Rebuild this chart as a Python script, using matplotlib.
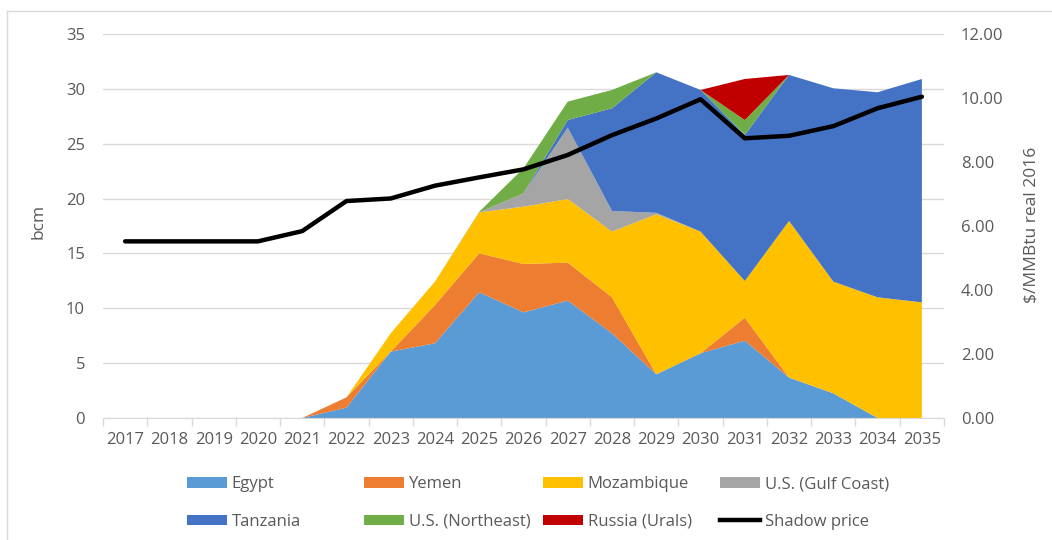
import numpy as np
import matplotlib
matplotlib.use("Agg")
import matplotlib.pyplot as plt
from matplotlib.lines import Line2D
from matplotlib.patches import Patch

plt.rcParams['font.family'] = ['Open Sans', 'DejaVu Sans']

years = [str(y) for y in range(2017, 2036)]

# bcm (not stacked)
egypt      = [0, 0, 0, 0, 0, 0.94, 6.05, 6.81, 11.46, 9.63, 10.70, 7.72, 3.98, 5.90, 7.05, 3.68, 2.25, 0, 0]
yemen      = [0, 0, 0, 0, 0, 0.94, 0, 3.49, 3.55, 4.41, 3.46, 3.28, 0, 0, 2.09, 0, 0, 0, 0]
mozambique = [0, 0, 0, 0, 0, 0, 1.67, 2.13, 3.74, 5.22, 5.80, 5.99, 14.59, 11.09, 3.35, 14.28, 10.18, 11.00, 10.54]
gulf_coast = [0, 0, 0, 0, 0, 0, 0, 0, 0, 1.22, 6.50, 1.88, 0.13, 0, 0, 0, 0, 0, 0]
tanzania   = [0, 0, 0, 0, 0, 0, 0, 0, 0, 0, 0.70, 9.36, 12.81, 12.91, 13.31, 13.31, 17.62, 18.69, 20.36]
northeast  = [0, 0, 0, 0, 0, 0, 0, 0, 0.05, 2.28, 1.68, 1.67, 0, 0, 1.36, 0, 0, 0, 0]
russia     = [0, 0, 0, 0, 0, 0, 0, 0, 0, 0, 0, 0, 0, 0, 3.74, 0, 0, 0, 0]

# $/MMBtu real 2016
shadow_price = [5.52, 5.52, 5.52, 5.52, 5.84, 6.78, 6.86, 7.26, 7.52, 7.77,
                8.22, 8.84, 9.36, 9.96, 8.74, 8.82, 9.12, 9.68, 10.04]

names = ['Egypt', 'Yemen', 'Mozambique', 'U.S. (Gulf Coast)',
         'Tanzania', 'U.S. (Northeast)', 'Russia (Urals)']
colors = ['#5B9BD5', '#ED7D31', '#FFC000', '#A5A5A5',
          '#4472C4', '#70AD47', '#C00000']
series = [egypt, yemen, mozambique, gulf_coast, tanzania, northeast, russia]

grey_txt = '#595959'
grid_c = '#D9D9D9'
fs = 12

x = np.arange(len(years))

fig = plt.figure(figsize=(10.52, 5.40), dpi=100)
ax = fig.add_axes([103/1052, 1 - 418/540, 841/1052, 384/540])

ax.stackplot(x, *series, colors=colors, linewidth=0, labels=names)
ax.set_xlim(-0.5, len(years) - 0.5)
ax.set_ylim(0, 35)
ax.set_yticks(np.arange(0, 36, 5))
ax.grid(axis='y', color=grid_c, lw=1)
ax.set_axisbelow(True)

ax.set_xticks(np.arange(-0.5, len(years), 1))
ax.set_xticklabels([])
ax.set_xticks(x, minor=True)
ax.set_xticklabels(years, minor=True)
ax.tick_params(axis='x', which='major', length=6, color=grid_c, width=1)
ax.tick_params(axis='x', which='minor', length=0, pad=10, labelsize=fs, labelcolor=grey_txt)
ax.tick_params(axis='y', length=0, pad=13, labelsize=fs, labelcolor=grey_txt)
for s in ['top', 'left', 'right']:
    ax.spines[s].set_visible(False)
ax.spines['bottom'].set_color(grid_c)

ax.set_ylabel('bcm', fontsize=fs + 0.5, color=grey_txt)
ax.yaxis.set_label_coords(-0.067, 0.513)

ax2 = ax.twinx()
ax2.plot(x, shadow_price, color='black', lw=3.2, solid_capstyle='round',
         solid_joinstyle='round', label='Shadow price')
ax2.set_ylim(0, 12)
ax2.set_yticks(np.arange(0, 13, 2))
ax2.set_yticklabels([f'{v:.2f}' for v in np.arange(0, 13, 2)])
ax2.tick_params(axis='y', length=0, pad=12, labelsize=fs, labelcolor=grey_txt)
for s in ax2.spines.values():
    s.set_visible(False)
ax2.set_ylabel('$/MMBtu real 2016', fontsize=fs + 0.5, color=grey_txt)
ax2.yaxis.set_label_coords(1.094, 0.503)

# outer chart border (left and top edges visible in the crop)
fig.add_artist(Line2D([7/1052, 7/1052], [0, 1 - 11/540], color=grid_c, lw=1))
fig.add_artist(Line2D([7/1052, 1], [1 - 11/540, 1 - 11/540], color=grid_c, lw=1))

# legend: four columns, two rows (row-major order like the original)
handles = [Patch(facecolor=c, edgecolor='none') for c in colors]
handles.append(Line2D([0], [0], color='black', lw=3.2))
labels = names + ['Shadow price']
col_x = [187, 364, 543, 720]
for i, cx in enumerate(col_x):
    leg = fig.legend([handles[i], handles[i + 4]], [labels[i], labels[i + 4]],
                     loc='center left', bbox_to_anchor=(cx/1052, 1 - 503/540),
                     frameon=False, fontsize=fs, handlelength=2.4,
                     handleheight=0.6, handletextpad=0.28, labelspacing=1.3,
                     borderpad=0, borderaxespad=0)
    for t in leg.get_texts():
        t.set_color(grey_txt)

fig.savefig('out.png', dpi=100)
